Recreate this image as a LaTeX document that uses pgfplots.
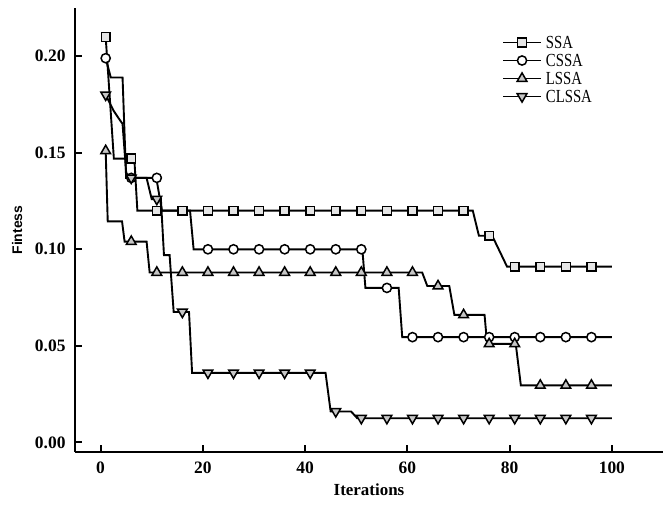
\documentclass[border=0pt]{standalone}
\usepackage{fontspec}
\setmainfont{Liberation Serif}
\newfontfamily\labelsans{Liberation Sans}
\usepackage{graphicx}
\usepackage{pgfplots}
\pgfplotsset{compat=1.18}

% line and mark styles of the four algorithms
\pgfplotsset{
  curve/.style={black, line width=1.9bp, forget plot},
  mk/.style={only marks, forget plot},
  sq/.style={mark=square*, mark size=4.4bp, mark options={fill=gray!20, draw=black, line width=1.5bp, solid}},
  ci/.style={mark=*, mark size=4.6bp, mark options={fill=white, draw=black, line width=1.5bp, solid}},
  tu/.style={mark=triangle*, mark size=5.6bp, mark options={fill=gray!45, draw=black, line width=1.5bp, solid}},
  td/.style={mark=triangle*, mark size=5.6bp, mark options={rotate=180, fill=gray!45, draw=black, line width=1.5bp, solid}},
}

\begin{document}
\begin{tikzpicture}
\begin{axis}[
  scale only axis, width=588bp, height=444bp,
  xmin=-5, xmax=110, ymin=-0.005, ymax=0.225,
  axis x line*=bottom, axis y line*=left,
  axis line style={line width=2bp},
  tick align=inside, major tick length=7bp,
  tick style={line width=2bp, black},
  xtick={0,20,...,100}, ytick={0,0.05,0.10,0.15,0.20},
  scaled y ticks=false,
  /pgf/number format/assume math mode=true,
  yticklabel style={xshift=-6bp, /pgf/number format/fixed, /pgf/number format/fixed zerofill, /pgf/number format/precision=2},
  tick label style={font=\fontsize{17.5}{20}\selectfont\bfseries},
  xticklabel style={yshift=-6bp},
  xlabel={Iterations}, ylabel={Fintess},
  xlabel style={font=\fontsize{17}{20}\selectfont\bfseries, at={(axis description cs:0.5,-0.0856)}, anchor=center},
  ylabel style={font=\labelsans\bfseries\fontsize{14}{16}\selectfont, at={(axis description cs:-0.0986,0.5)}, anchor=center},
  legend style={draw=none, fill=none, at={(axis description cs:0.726,0.943)}, anchor=north west,
    inner sep=0pt, font=\fontsize{18.5}{19}\selectfont,
    nodes={inner ysep=2bp, inner xsep=4bp, text height=12.5bp, text depth=1.5bp}},
  legend cell align=left,
  legend image code/.code={\draw[mark repeat=2,mark phase=2,#1] plot coordinates {(0bp,0bp) (19bp,0bp) (38bp,0bp)};},
]

% SSA
\addplot[curve] coordinates {(1,0.210) (2.6,0.147) (6.6,0.147) (7.2,0.120) (72.8,0.120) (74,0.107) (76.6,0.107) (79.5,0.091) (100,0.091)};
\addplot[mk, sq] coordinates {(1,0.210) (6,0.147) (11,0.120) (16,0.120) (21,0.120) (26,0.120) (31,0.120) (36,0.120) (41,0.120) (46,0.120) (51,0.120) (56,0.120) (61,0.120) (66,0.120) (71,0.120) (76,0.107) (81,0.091) (86,0.091) (91,0.091) (96,0.091)};

% CSSA
\addplot[curve] coordinates {(1,0.199) (2,0.189) (4.3,0.189) (5,0.137) (10.9,0.137) (12,0.120) (17.5,0.120) (18.2,0.100) (51.2,0.100) (51.8,0.080) (58.3,0.080) (59,0.0545) (100,0.0545)};
\addplot[mk, ci] coordinates {(1,0.199) (6,0.137) (11,0.137) (21,0.100) (26,0.100) (31,0.100) (36,0.100) (41,0.100) (46,0.100) (51,0.100) (56,0.080) (61,0.0545) (66,0.0545) (71,0.0545) (76,0.0545) (81,0.0545) (86,0.0545) (91,0.0545) (96,0.0545)};

% LSSA
\addplot[curve] coordinates {(1,0.151) (1.4,0.1145) (4.2,0.1145) (4.7,0.104) (9,0.104) (9.6,0.088) (62.9,0.088) (63.9,0.081) (68.2,0.081) (69.2,0.066) (75.1,0.066) (75.6,0.051) (81.2,0.051) (82.2,0.0295) (100,0.0295)};
\addplot[mk, tu] coordinates {(1,0.151) (6,0.104) (11,0.088) (16,0.088) (21,0.088) (26,0.088) (31,0.088) (36,0.088) (41,0.088) (46,0.088) (51,0.088) (56,0.088) (61,0.088) (66,0.081) (71,0.066) (76,0.051) (81,0.051) (86,0.0295) (91,0.0295) (96,0.0295)};

% CLSSA
\addplot[curve] coordinates {(1,0.180) (2.5,0.172) (3.5,0.168) (4.3,0.165) (5,0.140) (5.5,0.137) (9,0.137) (10,0.126) (11.8,0.126) (12.4,0.097) (13.5,0.097) (14.3,0.0675) (17.3,0.0675) (17.9,0.036) (44,0.036) (45,0.016) (49,0.016) (50.2,0.0125) (100,0.0125)};
\addplot[mk, td] coordinates {(1,0.180) (6,0.137) (11,0.126) (16,0.0675) (21,0.036) (26,0.036) (31,0.036) (36,0.036) (41,0.036) (46,0.016) (51,0.0125) (56,0.0125) (61,0.0125) (66,0.0125) (71,0.0125) (76,0.0125) (81,0.0125) (86,0.0125) (91,0.0125) (96,0.0125)};

\addlegendimage{black, line width=1.9bp, sq}
\addlegendentry{\scalebox{0.8}[1]{SSA}}
\addlegendimage{black, line width=1.9bp, ci}
\addlegendentry{\scalebox{0.8}[1]{CSSA}}
\addlegendimage{black, line width=1.9bp, tu}
\addlegendentry{\scalebox{0.8}[1]{LSSA}}
\addlegendimage{black, line width=1.9bp, td}
\addlegendentry{\scalebox{0.8}[1]{CLSSA}}
\end{axis}
\path ([shift={(-75bp,-58bp)}]current axis.south west) rectangle ([shift={(6bp,8bp)}]current axis.north east);
\end{tikzpicture}
\end{document}
